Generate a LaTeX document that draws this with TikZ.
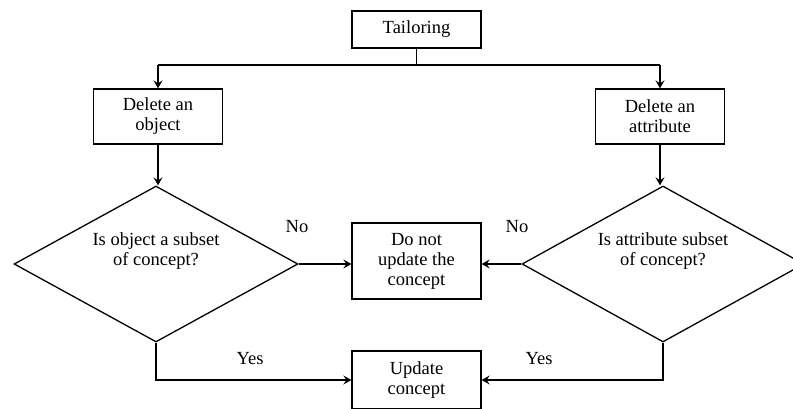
\documentclass[tikz,border=0pt]{standalone}
\usepackage{fontspec}
\setmainfont{Liberation Serif}
\usetikzlibrary{shapes.geometric, arrows.meta}

\tikzset{
  stepbox/.style={draw, line width=1.3pt, minimum width=129pt, align=center},
  decision/.style={diamond, draw, line width=1.3pt, aspect=1.83, inner sep=2pt,
                   minimum width=284pt, minimum height=156pt, align=center, text depth=30pt},
  flow/.style={line width=1.3pt, -{Stealth[length=8pt, width=9pt, inset=3pt]}},
}

\begin{document}
\begin{tikzpicture}[x=1pt, y=-1pt, every node/.style={font=\fontsize{18.5}{20}\selectfont}]
  \useasboundingbox (0, 0) rectangle (793, 408);
  \clip (0, 0) rectangle (793, 408);

  % Top: tailoring splits into the two deletions
  \node[stepbox, minimum height=37pt] (tail) at (416.5, 29.5) {Tailoring};
  \coordinate (bar) at (416.5, 65);
  \node[stepbox, minimum height=55pt] (delobj) at (158, 116.5) {Delete an\\object};
  \node[stepbox, minimum height=55pt] (delatt) at (660, 116.5) {Delete an\\attribute};

  % Decisions
  \node[decision] (qobj) at (156, 264) {Is object a subset\\of concept?};
  \node[decision, minimum width=282pt] (qatt) at (663, 264) {Is attribute subset\\of concept?};

  % Outcomes
  \node[stepbox, minimum height=76pt] (donot) at (416.5, 261) {Do not\\update the\\concept};
  \node[stepbox, minimum height=58pt] (update) at (416.5, 380) {Update\\concept};

  % Connectors
  \draw[line width=1.3pt] (tail.south) -- (bar);
  \draw[line width=2.3pt] (delobj.north |- bar) -- (delatt.north |- bar);
  \draw[flow] (delobj.north |- bar) -- (delobj.north);
  \draw[flow] (delatt.north |- bar) -- (delatt.north);
  \draw[flow] (delobj.south) -- (delobj.south |- qobj.north);
  \draw[flow] (delatt.south) -- (delatt.south |- qatt.north);
  \draw[flow] (qobj.east) -- (qobj.east -| donot.west);
  \draw[flow] (qatt.west) -- (qatt.west -| donot.east);
  \draw[flow] (qobj.south) |- (update.west);
  \draw[flow] (qatt.south) |- (update.east);

  % Branch labels
  \node (noobj) at (297, 227) {No};
  \node (noatt) at (517, 227) {No};
  \node (yesobj) at (250, 359) {Yes};
  \node (yesatt) at (539, 359) {Yes};
\end{tikzpicture}
\end{document}
